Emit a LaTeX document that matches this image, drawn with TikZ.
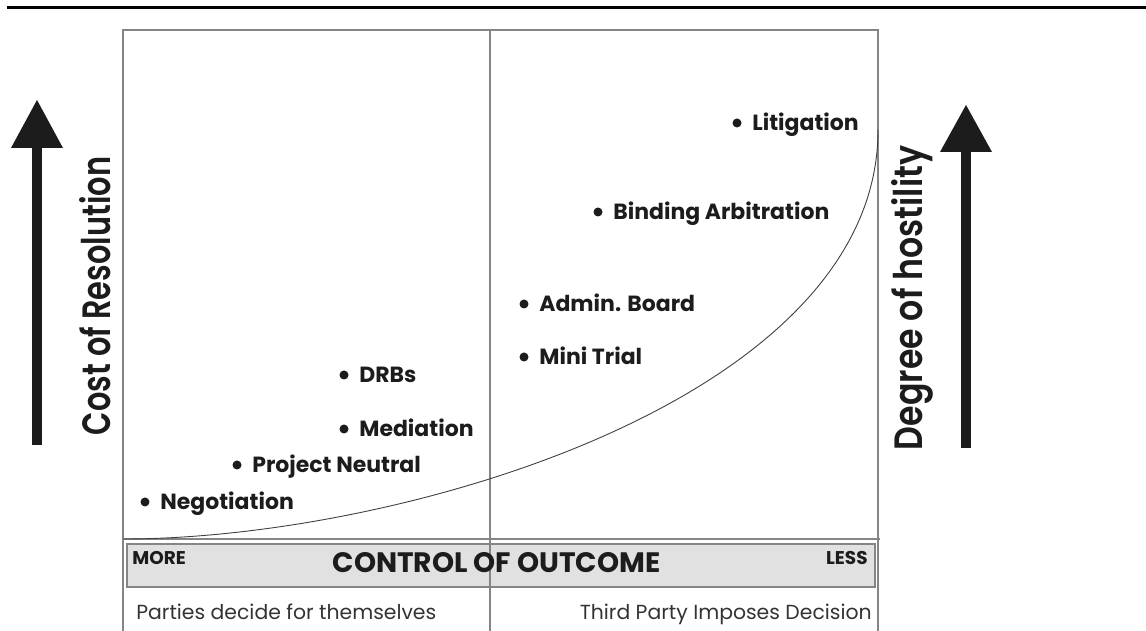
\documentclass[tikz,border=0pt]{standalone}
\usepackage{fontspec}
\setmainfont{Poppins}
\IfFontExistsTF{Poppins SemiBold}{\newfontfamily\sidefont{Poppins SemiBold}}{\newfontfamily\sidefont{Poppins}[FakeBold=1.5]}
\definecolor{framegray}{HTML}{858585}
\definecolor{bandgray}{HTML}{E1E1E1}
\definecolor{inkblack}{HTML}{1C1C1C}
\begin{document}
\begin{tikzpicture}[
    frameline/.style={draw=framegray, line width=0.022cm},
    itemlabel/.style={anchor=base west, inner sep=0pt, text=inkblack, font=\fontsize{12.5}{14}\selectfont\bfseries},
    itemdot/.style={fill=inkblack},
    bandword/.style={inner sep=0pt, text=inkblack, font=\fontsize{10.5}{12}\selectfont\bfseries},
    footword/.style={inner sep=0pt, text=black!80, font=\fontsize{11.6}{13}\selectfont},
    sideword/.style={rotate=90, anchor=base, inner sep=0pt, text=inkblack, font=\fontsize{22.5}{24}\sidefont},
    bigarrow/.style={fill=inkblack, draw=none}
  ]
  \useasboundingbox (0.000000,0.000000) rectangle (22.920000,12.620000);

  % Drawing top rule
  \draw [line width=0.045cm, black] (0.140000,12.470000) -- (22.920000,12.470000);%

  % Drawing frame
  \draw [frameline] (2.460000,0.000000) -- (2.460000,12.020000) -- (17.560000,12.020000) -- (17.560000,0.000000);%
  \draw [frameline] (9.800000,12.020000) -- (9.800000,0.000000);%
  \draw [frameline] (2.460000,1.840000) -- (17.600000,1.840000);%

  % Drawing band
  \draw [frameline, fill=bandgray] (2.540000,0.880000) rectangle (17.500000,1.740000);%
  \draw [frameline] (9.800000,0.880000) -- (9.800000,1.740000);%

  % Drawing curve
  \draw [line width=0.018cm, black!75] (2.460000,1.840000) .. controls (8.000000,1.840000) and (17.560000,4.620000) .. (17.560000,10.020000);%

  % Drawing left arrow
  \fill [bigarrow] (0.640000,3.720000) rectangle (0.840000,9.680000);%
  \fill [bigarrow] (0.220000,9.660000) -- (0.740000,10.620000) -- (1.260000,9.660000) -- cycle;%

  % Drawing right arrow
  \fill [bigarrow] (19.220000,3.660000) rectangle (19.420000,9.600000);%
  \fill [bigarrow] (18.800000,9.580000) -- (19.320000,10.520000) -- (19.840000,9.580000) -- cycle;%

  % Marking side texts
  \node [sideword] (cost) at (2.200000,6.700000) {\scalebox{0.77}[1]{Cost of Resolution}};%
  \node [sideword] (hostility) at (18.440000,6.660000) {\scalebox{0.84}[1]{Degree of hostility}};%

  % Marking points
  \node [itemlabel] (litigation) at (15.040000,10.000000) {Litigation};%
  \node [itemlabel] (binding) at (12.260000,8.220000) {Binding Arbitration};%
  \node [itemlabel] (admin) at (10.780000,6.380000) {Admin. Board};%
  \node [itemlabel] (minitrial) at (10.780000,5.320000) {Mini Trial};%
  \node [itemlabel] (drbs) at (7.180000,4.960000) {DRBs};%
  \node [itemlabel] (mediation) at (7.180000,3.880000) {Mediation};%
  \node [itemlabel] (neutral) at (5.040000,3.160000) {Project Neutral};%
  \node [itemlabel] (negotiation) at (3.200000,2.420000) {Negotiation};%

  % Marking points by dots
  \foreach \p in {litigation,binding,admin,minitrial,drbs,mediation,neutral,negotiation}
    \fill [itemdot] ([shift={(-0.300000,0.160000)}]\p.base west) circle (0.090000);%

  % Marking band texts
  \node [bandword, anchor=base west] (more) at (2.640000,1.320000) {MORE};%
  \node [bandword, anchor=base east] (less) at (17.360000,1.320000) {LESS};%
  \node [bandword, anchor=base, font=\fontsize{16}{18}\selectfont\bfseries] (control) at (9.930000,1.160000) {CONTROL OF OUTCOME};%

  % Marking foot texts
  \node [footword, anchor=base west] (parties) at (2.720000,0.220000) {Parties decide for themselves};%
  \node [footword, anchor=base east] (third) at (17.440000,0.220000) {Third Party Imposes Decision};%
\end{tikzpicture}
\end{document}
